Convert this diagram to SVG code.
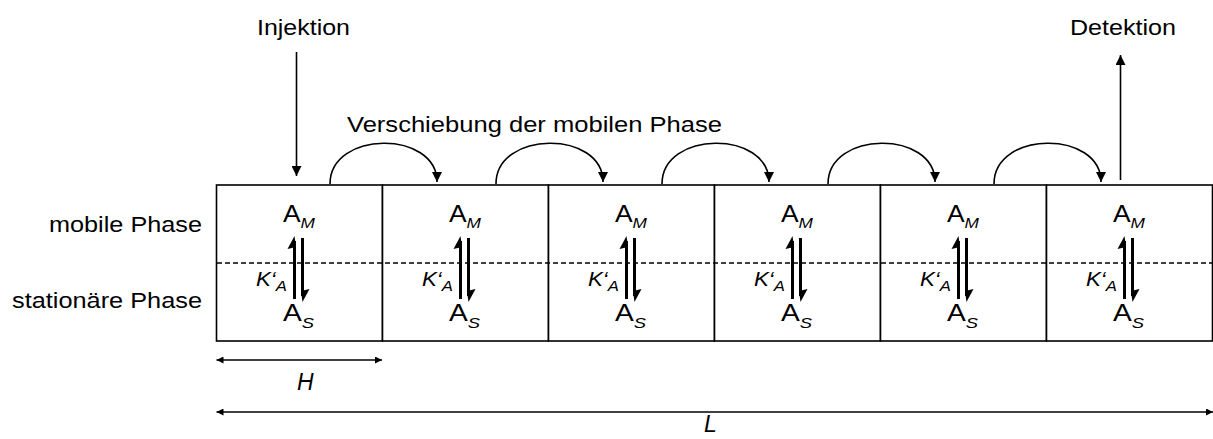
<svg xmlns="http://www.w3.org/2000/svg" width="1213" height="439" viewBox="0 0 1213 439">
<defs>
<style>
text{font-family:"Liberation Sans",Arial,Helvetica,sans-serif;fill:#000}
.lbl{font-size:22px}
.big{font-size:23px}
.sub{font-size:15px;font-style:italic}
.k{font-size:20px;font-style:italic}
.ksub{font-size:15px;font-style:italic}
.cell{fill:#fff;stroke:#000;stroke-width:1.6}
.eq{stroke:#000;stroke-width:3;fill:none}
.head{fill:#000;stroke:none}
.conn{stroke:#000;stroke-width:1.6;fill:none}
.dash{stroke:#000;stroke-width:1.4;stroke-dasharray:5 3;fill:none}
</style>
<marker id="ah" viewBox="0 0 10 10" refX="10" refY="5" markerWidth="11" markerHeight="10" markerUnits="userSpaceOnUse" orient="auto-start-reverse">
<path d="M0,0 L10,5 L0,10 z" fill="#000"/>
</marker>
<marker id="sm" viewBox="0 0 10 10" refX="10" refY="5" markerWidth="8" markerHeight="7" markerUnits="userSpaceOnUse" orient="auto-start-reverse">
<path d="M0,0 L10,5 L0,10 z" fill="#000"/>
</marker>
</defs>
<rect width="1213" height="439" fill="#fff"/>

<g id="labels">
<text class="lbl" x="202" y="232" text-anchor="end" textLength="153" lengthAdjust="spacingAndGlyphs">mobile Phase</text>
<text class="lbl" x="202" y="308" text-anchor="end" textLength="190" lengthAdjust="spacingAndGlyphs">stationäre Phase</text>
<text class="lbl" x="257" y="35" textLength="93" lengthAdjust="spacingAndGlyphs">Injektion</text>
<text class="lbl" x="1070" y="35" textLength="106" lengthAdjust="spacingAndGlyphs">Detektion</text>
<text class="lbl" x="347" y="132" textLength="375" lengthAdjust="spacingAndGlyphs">Verschiebung der mobilen Phase</text>
<text class="big" x="297" y="390" font-style="italic" font-size="24">H</text>
<text class="big" x="704" y="432" font-style="italic" font-size="20">L</text>
</g>

<g id="cell1" transform="translate(0,0)">
<rect class="cell" x="216.5" y="185" width="166" height="156"/>
<text class="big" x="283" y="222" textLength="32" lengthAdjust="spacingAndGlyphs">A<tspan class="sub" dy="6">M</tspan></text>
<line class="eq" x1="294.5" y1="241" x2="294.5" y2="299"/>
<polygon class="head" points="294.5,236 287.5,249 296,247"/>
<line class="eq" x1="302.5" y1="238" x2="302.5" y2="296"/>
<polygon class="head" points="302.5,302 309.5,289 301,291"/>
<text class="k" x="256" y="286" textLength="31" lengthAdjust="spacingAndGlyphs">K‘<tspan class="ksub" dy="5">A</tspan></text>
<text class="big" x="283" y="321" textLength="31" lengthAdjust="spacingAndGlyphs">A<tspan class="sub" dy="7">S</tspan></text>
</g>
<g id="cell2" transform="translate(166,0)">
<rect class="cell" x="216.5" y="185" width="166" height="156"/>
<text class="big" x="283" y="222" textLength="32" lengthAdjust="spacingAndGlyphs">A<tspan class="sub" dy="6">M</tspan></text>
<line class="eq" x1="294.5" y1="241" x2="294.5" y2="299"/>
<polygon class="head" points="294.5,236 287.5,249 296,247"/>
<line class="eq" x1="302.5" y1="238" x2="302.5" y2="296"/>
<polygon class="head" points="302.5,302 309.5,289 301,291"/>
<text class="k" x="256" y="286" textLength="31" lengthAdjust="spacingAndGlyphs">K‘<tspan class="ksub" dy="5">A</tspan></text>
<text class="big" x="283" y="321" textLength="31" lengthAdjust="spacingAndGlyphs">A<tspan class="sub" dy="7">S</tspan></text>
</g>
<g id="cell3" transform="translate(332,0)">
<rect class="cell" x="216.5" y="185" width="166" height="156"/>
<text class="big" x="283" y="222" textLength="32" lengthAdjust="spacingAndGlyphs">A<tspan class="sub" dy="6">M</tspan></text>
<line class="eq" x1="294.5" y1="241" x2="294.5" y2="299"/>
<polygon class="head" points="294.5,236 287.5,249 296,247"/>
<line class="eq" x1="302.5" y1="238" x2="302.5" y2="296"/>
<polygon class="head" points="302.5,302 309.5,289 301,291"/>
<text class="k" x="256" y="286" textLength="31" lengthAdjust="spacingAndGlyphs">K‘<tspan class="ksub" dy="5">A</tspan></text>
<text class="big" x="283" y="321" textLength="31" lengthAdjust="spacingAndGlyphs">A<tspan class="sub" dy="7">S</tspan></text>
</g>
<g id="cell4" transform="translate(498,0)">
<rect class="cell" x="216.5" y="185" width="166" height="156"/>
<text class="big" x="283" y="222" textLength="32" lengthAdjust="spacingAndGlyphs">A<tspan class="sub" dy="6">M</tspan></text>
<line class="eq" x1="294.5" y1="241" x2="294.5" y2="299"/>
<polygon class="head" points="294.5,236 287.5,249 296,247"/>
<line class="eq" x1="302.5" y1="238" x2="302.5" y2="296"/>
<polygon class="head" points="302.5,302 309.5,289 301,291"/>
<text class="k" x="256" y="286" textLength="31" lengthAdjust="spacingAndGlyphs">K‘<tspan class="ksub" dy="5">A</tspan></text>
<text class="big" x="283" y="321" textLength="31" lengthAdjust="spacingAndGlyphs">A<tspan class="sub" dy="7">S</tspan></text>
</g>
<g id="cell5" transform="translate(664,0)">
<rect class="cell" x="216.5" y="185" width="166" height="156"/>
<text class="big" x="283" y="222" textLength="32" lengthAdjust="spacingAndGlyphs">A<tspan class="sub" dy="6">M</tspan></text>
<line class="eq" x1="294.5" y1="241" x2="294.5" y2="299"/>
<polygon class="head" points="294.5,236 287.5,249 296,247"/>
<line class="eq" x1="302.5" y1="238" x2="302.5" y2="296"/>
<polygon class="head" points="302.5,302 309.5,289 301,291"/>
<text class="k" x="256" y="286" textLength="31" lengthAdjust="spacingAndGlyphs">K‘<tspan class="ksub" dy="5">A</tspan></text>
<text class="big" x="283" y="321" textLength="31" lengthAdjust="spacingAndGlyphs">A<tspan class="sub" dy="7">S</tspan></text>
</g>
<g id="cell6" transform="translate(830,0)">
<rect class="cell" x="216.5" y="185" width="166" height="156"/>
<text class="big" x="283" y="222" textLength="32" lengthAdjust="spacingAndGlyphs">A<tspan class="sub" dy="6">M</tspan></text>
<line class="eq" x1="294.5" y1="241" x2="294.5" y2="299"/>
<polygon class="head" points="294.5,236 287.5,249 296,247"/>
<line class="eq" x1="302.5" y1="238" x2="302.5" y2="296"/>
<polygon class="head" points="302.5,302 309.5,289 301,291"/>
<text class="k" x="256" y="286" textLength="31" lengthAdjust="spacingAndGlyphs">K‘<tspan class="ksub" dy="5">A</tspan></text>
<text class="big" x="283" y="321" textLength="31" lengthAdjust="spacingAndGlyphs">A<tspan class="sub" dy="7">S</tspan></text>
</g>

<line id="phase-boundary" class="dash" x1="217" y1="263" x2="1212" y2="263"/>

<g id="connectors">
<line class="conn" x1="296.5" y1="52" x2="296.5" y2="176" marker-end="url(#ah)"/>
<line class="conn" x1="1120.5" y1="180" x2="1120.5" y2="55" marker-end="url(#ah)"/>
<path class="conn" d="M330,184 C330,130 437,130 437,182" marker-end="url(#ah)"/>
<path class="conn" d="M496,184 C496,130 603,130 603,182" marker-end="url(#ah)"/>
<path class="conn" d="M662,184 C662,130 769,130 769,182" marker-end="url(#ah)"/>
<path class="conn" d="M828,184 C828,130 935,130 935,182" marker-end="url(#ah)"/>
<path class="conn" d="M994,184 C994,130 1101,130 1101,182" marker-end="url(#ah)"/>
<line class="conn" x1="216.5" y1="360" x2="382" y2="360" marker-start="url(#sm)" marker-end="url(#sm)"/>
<line class="conn" x1="216.5" y1="412" x2="1213" y2="412" marker-start="url(#sm)" marker-end="url(#sm)"/>
</g>
</svg>
